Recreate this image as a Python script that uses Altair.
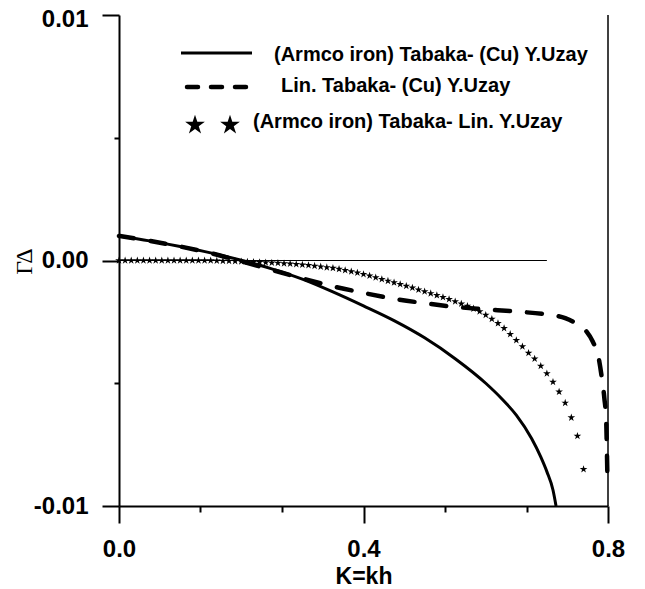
import altair as alt
import pandas as pd

# ---- data ----
# (Armco iron) Tabaka- (Cu) Y.Uzay  (solid)
solid_k = [0.0, 0.05, 0.10, 0.15, 0.20, 0.25, 0.30, 0.35, 0.40, 0.45, 0.50, 0.55,
           0.60, 0.625, 0.65, 0.675, 0.69, 0.70, 0.71, 0.715]
solid_g = [0.00100, 0.00080, 0.00057, 0.00031, 0.00001, -0.00034, -0.00076, -0.00128,
           -0.00185, -0.00245, -0.00315, -0.00400, -0.00500, -0.00560, -0.00630,
           -0.00725, -0.00800, -0.00860, -0.00935, -0.01000]

# Lin. Tabaka- (Cu) Y.Uzay  (dashed)
dash_k = [0.0, 0.05, 0.10, 0.15, 0.20, 0.25, 0.30, 0.35, 0.40, 0.45, 0.50, 0.55, 0.60,
          0.65, 0.70, 0.73, 0.75, 0.765, 0.775, 0.785, 0.790, 0.794, 0.797, 0.798, 0.799]
dash_g = [0.00100, 0.00080, 0.00057, 0.00030, -0.00003, -0.00038, -0.00073, -0.00105,
          -0.00132, -0.00156, -0.00174, -0.00189, -0.00199, -0.00208, -0.00220, -0.00235,
          -0.00260, -0.00290, -0.00330, -0.00400, -0.00480, -0.00560, -0.00650, -0.00750,
          -0.00880]

# (Armco iron) Tabaka- Lin. Y.Uzay  (stars)
star_k = [0.00, 0.01, 0.02, 0.03, 0.04, 0.05, 0.06, 0.07, 0.08, 0.09,
          0.10, 0.11, 0.12, 0.13, 0.14, 0.15, 0.16, 0.17, 0.18, 0.19,
          0.20, 0.21, 0.22, 0.23, 0.24, 0.25, 0.26, 0.27, 0.28, 0.29,
          0.30, 0.31, 0.32, 0.33, 0.34, 0.35, 0.36, 0.37, 0.38, 0.39,
          0.40, 0.41, 0.42, 0.43, 0.44, 0.45, 0.46, 0.47, 0.48, 0.49,
          0.50, 0.51, 0.52, 0.53, 0.54, 0.55, 0.56, 0.57, 0.58, 0.59,
          0.60, 0.61, 0.62, 0.63, 0.64, 0.65, 0.66, 0.67, 0.68, 0.69,
          0.70, 0.71, 0.72, 0.73, 0.74, 0.75, 0.76]
star_g = [0.0, 0.0, 0.0, 0.0, 0.0, 0.0, 0.0, 0.0, 0.0, 0.0,
          0.0, 0.0, 0.0, 0.0, 0.0, 0.0, -0.00001, -0.00002, -0.00002, -0.00003,
          -0.00004, -0.00005, -0.00006, -0.00007, -0.00008, -0.00009, -0.00010, -0.00012, -0.00013, -0.00015,
          -0.00017, -0.00019, -0.00022, -0.00025, -0.00028, -0.00031, -0.00035, -0.00040, -0.00045, -0.00050,
          -0.00056, -0.00062, -0.00069, -0.00076, -0.00083, -0.00090, -0.00097, -0.00104, -0.00111, -0.00119,
          -0.00126, -0.00134, -0.00142, -0.00150, -0.00158, -0.00167, -0.00176, -0.00185, -0.00196, -0.00208,
          -0.00222, -0.00238, -0.00256, -0.00276, -0.00300, -0.00325, -0.00350, -0.00377, -0.00400, -0.00430,
          -0.00460, -0.00495, -0.00535, -0.00580, -0.00640, -0.00715, -0.00850]

zero_line_k = [0.0, 0.7]
x_ticks = [0.0, 0.13333, 0.26667, 0.4, 0.53333, 0.66667, 0.8]
y_ticks = [-0.01, -0.005, 0.0, 0.005, 0.01]
legend_labels = ["(Armco iron) Tabaka- (Cu) Y.Uzay",
                 "Lin. Tabaka- (Cu) Y.Uzay",
                 "(Armco iron) Tabaka- Lin. Y.Uzay"]

STAR = ("M0,-1L0.2245,-0.309L0.951,-0.309L0.363,0.118L0.588,0.809L0,0.382"
        "L-0.588,0.809L-0.363,0.118L-0.951,-0.309L-0.2245,-0.309Z")
FONT = "Liberation Sans"

solid_df = pd.DataFrame({"k": solid_k, "g": solid_g})
dash_df = pd.DataFrame({"k": dash_k, "g": dash_g})
star_df = pd.DataFrame({"k": star_k, "g": star_g})
zero_df = pd.DataFrame({"k": [zero_line_k[0]], "k2": [zero_line_k[1]], "g": [0.0]})
border_df = pd.DataFrame({"k": [0.8], "g": [-0.01], "g2": [0.01]})

xs = alt.Scale(domain=[0, 0.8], nice=False, zero=False)
ys = alt.Scale(domain=[-0.01, 0.01], nice=False, zero=False)

x_axis = alt.Axis(
    values=x_ticks,
    labelExpr="indexof([0,0.4,0.8], datum.value) >= 0 ? format(datum.value, '.1f') : ''",
    tickSize={"condition": {"test": "indexof([0,0.4,0.8], datum.value) >= 0", "value": 17}, "value": 6},
    labelPadding=14,
    labelOverlap=False,
    labelFlush=False,
    title="K=kh",
    titleFont=FONT, titleFontSize=23, titleFontWeight="bold",
    titleY=77, titleBaseline="alphabetic",
)
y_axis = alt.Axis(
    values=y_ticks,
    labelExpr="abs(datum.value) == 0.005 ? '' : replace(format(datum.value, '.2f'), '\u2212', '-')",
    tickSize={"condition": {"test": "abs(datum.value) == 0.005", "value": 5}, "value": 17},
    labelOffset={"condition": {"test": "datum.value == 0.01", "value": 4}, "value": 0},
    labelPadding=14,
    labelOverlap=False,
    labelFlush=False,
    title="ΓΔ",
    titleFont="Liberation Serif", titleFontSize=24, titleFontWeight="normal",
    titleAngle=-90, titleX=-95, titleY=246, titleAlign="center", titleBaseline="middle",
)

X = alt.X("k:Q", scale=xs, axis=x_axis)
Y = alt.Y("g:Q", scale=ys, axis=y_axis)

solid = alt.Chart(solid_df).mark_line(color="black", strokeWidth=3, interpolate="monotone").encode(x=X, y=Y)
dashed = alt.Chart(dash_df).mark_line(color="black", strokeWidth=4.5, strokeDash=[15, 17],
                                      strokeCap="round", interpolate="monotone").encode(x=X, y=Y)
stars = alt.Chart(star_df).mark_point(shape=STAR, filled=True, color="black", opacity=1,
                                      size=65, strokeWidth=0).encode(x=X, y=Y)
zero = alt.Chart(zero_df).mark_rule(color="black", strokeWidth=1).encode(x=X, x2="k2:Q", y=Y)
border = alt.Chart(border_df).mark_rule(color="black", strokeWidth=1.5).encode(x=X, y=Y, y2="g2:Q")

one = pd.DataFrame({"a": [0]})
leg1_line = alt.Chart(one).mark_rule(color="black", strokeWidth=3).encode(
    x=alt.value(62), x2=alt.value(133), y=alt.value(38))
leg2_line = alt.Chart(one).mark_rule(color="black", strokeWidth=4.5, strokeDash=[11, 13],
                                     strokeCap="round").encode(
    x=alt.value(68), x2=alt.value(128), y=alt.value(72))
leg3_a = alt.Chart(one).mark_point(shape=STAR, filled=True, color="black", opacity=1,
                                   size=430, strokeWidth=0).encode(x=alt.value(76), y=alt.value(110))
leg3_b = alt.Chart(one).mark_point(shape=STAR, filled=True, color="black", opacity=1,
                                   size=430, strokeWidth=0).encode(x=alt.value(111), y=alt.value(110))

def leg_text(label, x, y):
    return alt.Chart(one).mark_text(align="left", baseline="middle", font=FONT,
                                    fontWeight="bold", fontSize=20, color="black").encode(
        x=alt.value(x), y=alt.value(y), text=alt.value(label))

t1 = leg_text(legend_labels[0], 155, 40)
t2 = leg_text(legend_labels[1], 162, 71)
t3 = leg_text(legend_labels[2], 134, 107)

chart = alt.layer(
    zero, border, solid, dashed, stars,
    leg1_line, leg2_line, leg3_a, leg3_b, t1, t2, t3
).properties(
    width=489, height=491,
    autosize=alt.AutoSizeParams(type="none"),
    padding={"left": 111, "top": 7, "right": 29, "bottom": 83},
).configure_view(stroke=None).configure_axis(
    grid=False, domainColor="black", domainWidth=2, tickColor="black", tickWidth=2,
    labelFont=FONT, labelFontSize=24, labelFontWeight="bold", labelColor="black",
    titleColor="black",
)

chart.save("out.html", embed_options={"renderer": "svg", "actions": False})
